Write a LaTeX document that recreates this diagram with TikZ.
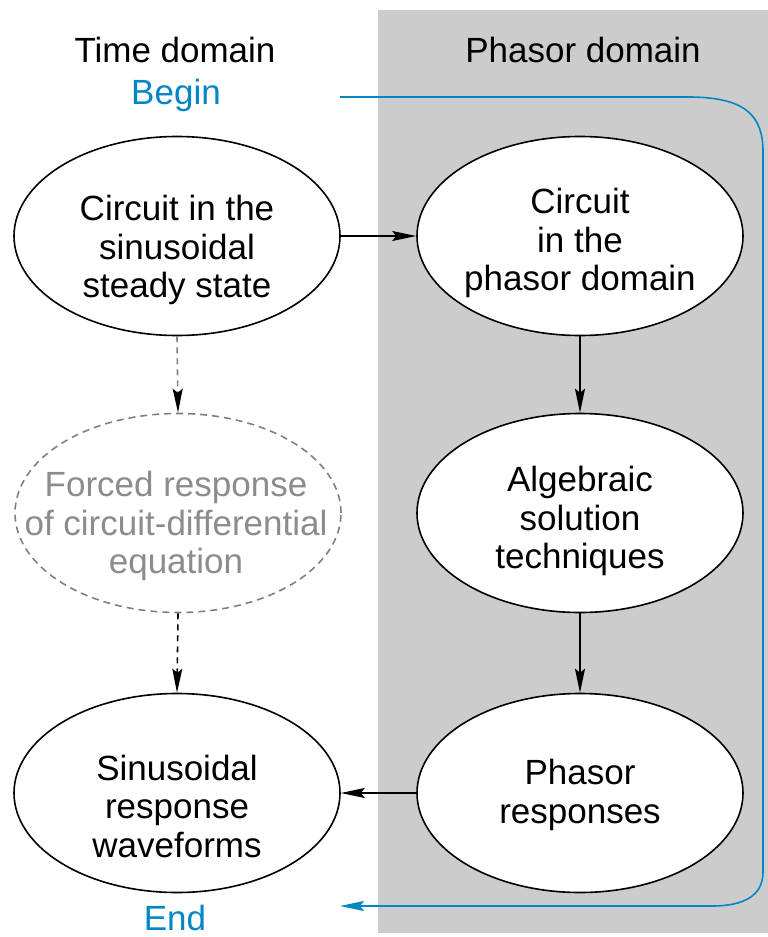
\documentclass[tikz,border=0pt]{standalone}
\usepackage{fontspec}
\setmainfont{Liberation Sans}
\usetikzlibrary{shapes.geometric,arrows.meta}
\definecolor{flowblue}{RGB}{0,134,196}
\definecolor{panelgray}{RGB}{204,204,204}
\definecolor{dashgray}{RGB}{128,128,128}
\definecolor{textgray}{RGB}{140,140,140}
\tikzset{
  oval/.style={ellipse, draw=black, line width=1.6pt, fill=white, minimum width=326pt, minimum height=199pt, inner sep=0pt},
  dashoval/.style={oval, draw=dashgray, dash pattern=on 7pt off 5pt},
  ovaltext/.style={align=center, inner sep=0pt, font=\fontsize{35}{38.5}\selectfont},
  lbl/.style={font=\fontsize{35}{38}\selectfont, inner sep=0pt},
  tip/.style={-{Stealth[length=24pt,width=10pt,inset=4pt]}},
  conn/.style={tip, line width=1.6pt, black},
}
\begin{document}
\begin{tikzpicture}[x=1pt,y=-1pt]
\useasboundingbox (0,0) rectangle (768,937);
\fill[panelgray] (378,10) rectangle (768,933);
\node[lbl] (tdom) at (175,50) {Time domain};
\node[lbl] (pdom) at (583,50) {Phasor domain};
\node[lbl, text=flowblue] (begin) at (176,95) {Begin};
\node[lbl, text=flowblue] (end) at (175,918) {End};
\node[oval] (css) at (177,236) {};
\node[oval] (cpd) at (580,236) {};
\node[dashoval] (frd) at (178,513) {};
\node[oval] (ast) at (580,513) {};
\node[oval] (srw) at (177,793) {};
\node[oval] (prs) at (580,793) {};
\node[ovaltext] (csst) at (177,250) {Circuit in the\\sinusoidal\\steady state};
\node[ovaltext] (cpdt) at (580,243) {Circuit\\in the\\phasor domain};
\node[ovaltext, text=textgray] (frdt) at (176,526) {Forced response\\of circuit-differential\\equation};
\node[ovaltext] (astt) at (580,521) {Algebraic\\solution\\techniques};
\node[ovaltext] (srwt) at (177,806) {Sinusoidal\\response\\waveforms};
\node[ovaltext] (prst) at (580,795) {Phasor\\responses};
\draw[conn] (css.east) -- (cpd.west);
\draw[conn] (cpd.south) -- (ast.north);
\draw[conn] (ast.south) -- (prs.north);
\draw[conn] (prs.west) -- (srw.east);
\draw[line width=1.6pt, draw=dashgray, dash pattern=on 6pt off 5pt, -{Stealth[length=24pt,width=10pt,inset=4pt,color=black]}] (css.south) -- (frd.north);
\draw[conn, dash pattern=on 6pt off 5pt] (frd.south) -- (srw.north);
\coordinate (bstart) at (340,97);
\coordinate (bend) at (340,906);
\draw[flowblue, line width=1.6pt, -{Stealth[length=24pt,width=10pt,inset=4pt]}]
  (bstart) -- (688,97) .. controls (745,97) and (763,115) .. (763,152)
  -- (763,872) .. controls (763,895) and (745,906) .. (712,906) -- (bend);
\end{tikzpicture}
\end{document}
